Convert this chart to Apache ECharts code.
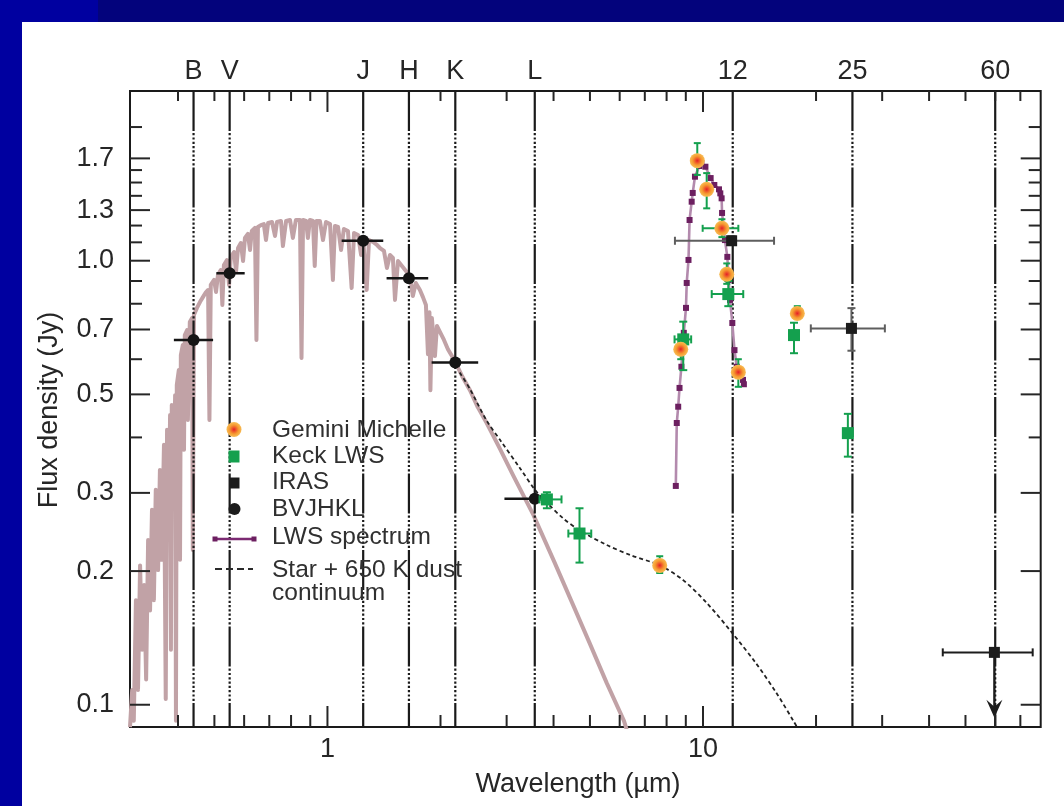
<!DOCTYPE html>
<html>
<head>
<meta charset="utf-8">
<title>Spectral energy distribution</title>
<script src="https://cdn.jsdelivr.net/npm/echarts@6/dist/echarts.min.js"></script>
<style>
  html, body { margin: 0; padding: 0; background: #ffffff; }
  #chart { width: 1064px; height: 806px; }
</style>
</head>
<body>
<div id="chart"></div>
<script>
// ---- Axis extents (log-log) ----
const X_RANGE = [0.298, 79.3];   // wavelength, µm
const Y_RANGE = [0.0891, 2.411]; // flux density, Jy

// ---- Photometric band wavelengths, labelled along the top ----
const bandNames = ['B', 'V', 'J', 'H', 'K', 'L', '12', '25', '60'];
const bandWavelengths = [0.44, 0.549, 1.245, 1.648, 2.19, 3.565, 12, 25, 60];

// ---- Tick positions and labels ----
const xMinorTicks = [0.4, 0.5, 0.6, 0.7, 0.8, 0.9, 2, 3, 4, 5, 6, 7, 8, 9, 20, 30, 40, 50, 60, 70];
const xMajorTicks = [1, 10];
const xTickLabels = ['1', '10'];
const yMajorTicks = [0.1, 0.2, 0.3, 0.5, 0.7, 1.0, 1.3, 1.7];
const yTickLabels = ['0.1', '0.2', '0.3', '0.5', '0.7', '1.0', '1.3', '1.7'];
const yMinorTicks = [0.4, 0.6, 0.8, 0.9, 1.1, 1.2, 1.4, 1.5, 1.6, 2.0];

// ---- Photometry: [wavelength, flux, xLow, xHigh, yLow, yHigh] ----
const bvjhklPoints = [
  [0.440, 0.663, 0.390, 0.496, 0.663, 0.663],
  [0.549, 0.937, 0.506, 0.602, 0.937, 0.937],
  [1.245, 1.109, 1.091, 1.408, 1.109, 1.109],
  [1.648, 0.913, 1.437, 1.855, 0.913, 0.913],
  [2.190, 0.590, 1.894, 2.520, 0.590, 0.590],
  [3.565, 0.291, 2.960, 3.900, 0.291, 0.291]
];
const keckPoints = [
  [3.84, 0.290, 3.67, 4.20, 0.277, 0.301],
  [4.69, 0.243, 4.38, 5.04, 0.209, 0.277],
  [8.86, 0.665, 8.40, 9.30, 0.567, 0.729],
  [11.68, 0.841, 10.55, 12.80, 0.790, 0.900],
  [17.47, 0.680, 17.47, 17.47, 0.619, 0.725],
  [24.31, 0.409, 24.31, 24.31, 0.362, 0.452]
];
const geminiPoints = [
  [7.67, 0.206, 7.67, 7.67, 0.198, 0.216],
  [8.725, 0.632, 8.725, 8.725, 0.600, 0.665],
  [9.656, 1.680, 9.656, 9.656, 1.560, 1.840],
  [10.23, 1.448, 10.23, 10.23, 1.312, 1.575],
  [11.23, 1.183, 9.98, 12.42, 1.130, 1.240],
  [11.57, 0.932, 11.57, 11.57, 0.887, 0.986],
  [12.42, 0.561, 12.42, 12.42, 0.520, 0.600],
  [17.83, 0.761, 17.83, 17.83, 0.740, 0.790]
];
const irasPoints = [
  [11.92, 1.109, 8.42, 15.46, 1.085, 1.135],
  [24.85, 0.704, 19.37, 30.5, 0.627, 0.782]
];
// [wavelength, flux, xLow, xHigh, arrowTip]
const irasUpperLimits = [
  [59.7, 0.1312, 43.5, 75.5, 0.0935]
];

// ---- LWS spectrum [wavelength, flux] ----
const lwsSpectrum = [
  [8.465, 0.311], [8.515, 0.431], [8.59, 0.469], [8.66, 0.517], [8.76, 0.577],
  [8.89, 0.688], [9.01, 0.783], [9.05, 0.891], [9.15, 1.004], [9.21, 1.235],
  [9.33, 1.358], [9.39, 1.421], [9.52, 1.546], [9.78, 1.634], [9.90, 1.660],
  [10.15, 1.628], [10.48, 1.535], [10.72, 1.481], [11.03, 1.448], [11.12, 1.418],
  [11.21, 1.382], [11.24, 1.281], [11.44, 1.113], [11.61, 1.020], [11.70, 0.905],
  [11.80, 0.816], [11.97, 0.724], [12.13, 0.629], [12.30, 0.577], [12.55, 0.556],
  [12.78, 0.539], [12.85, 0.527]
];

// ---- Stellar photosphere model [wavelength, flux] ----
const stellarModel = [
  [0.298, 0.089], [0.302, 0.108], [0.305, 0.092], [0.309, 0.172], [0.313, 0.108],
  [0.317, 0.206], [0.321, 0.133], [0.325, 0.186], [0.329, 0.114], [0.333, 0.235],
  [0.337, 0.163], [0.341, 0.275], [0.345, 0.172], [0.349, 0.305], [0.354, 0.201],
  [0.358, 0.338], [0.362, 0.212], [0.367, 0.385], [0.371, 0.103], [0.374, 0.416],
  [0.378, 0.261], [0.381, 0.449], [0.383, 0.133], [0.385, 0.473], [0.390, 0.338],
  [0.393, 0.498], [0.395, 0.092], [0.397, 0.525], [0.402, 0.567], [0.405, 0.212],
  [0.407, 0.613], [0.412, 0.646], [0.415, 0.375], [0.417, 0.680], [0.423, 0.698],
  [0.425, 0.438], [0.430, 0.728], [0.436, 0.743], [0.438, 0.223], [0.441, 0.755],
  [0.449, 0.782], [0.458, 0.808], [0.466, 0.828], [0.475, 0.850], [0.481, 0.859],
  [0.485, 0.438], [0.489, 0.882], [0.499, 0.905], [0.505, 0.850], [0.511, 0.929],
  [0.520, 0.953], [0.525, 0.795], [0.530, 0.978], [0.540, 1.003], [0.547, 0.882],
  [0.553, 1.020], [0.564, 1.046], [0.571, 0.944], [0.578, 1.068], [0.588, 1.096],
  [0.596, 0.998], [0.603, 1.125], [0.614, 1.149], [0.622, 1.057], [0.629, 1.167],
  [0.641, 1.185], [0.647, 0.663], [0.653, 1.191], [0.665, 1.203], [0.677, 1.209],
  [0.686, 1.113], [0.695, 1.216], [0.712, 1.222], [0.725, 1.137], [0.734, 1.222],
  [0.752, 1.229], [0.761, 1.079], [0.776, 1.229], [0.795, 1.235], [0.809, 1.125],
  [0.824, 1.235], [0.845, 1.235], [0.853, 0.604], [0.861, 1.235], [0.877, 1.229],
  [0.887, 1.125], [0.898, 1.235], [0.915, 1.229], [0.925, 0.973], [0.935, 1.229],
  [0.955, 1.229], [0.973, 1.113], [0.991, 1.222], [1.016, 1.209], [1.034, 0.905],
  [1.047, 1.197], [1.067, 1.191], [1.087, 1.057], [1.106, 1.179], [1.134, 1.167],
  [1.160, 0.868], [1.177, 1.155], [1.206, 1.143], [1.229, 1.030], [1.244, 1.131],
  [1.272, 0.859], [1.290, 1.113], [1.322, 1.102], [1.355, 1.085], [1.380, 1.068],
  [1.414, 1.052], [1.440, 0.963], [1.467, 1.030], [1.494, 1.014], [1.513, 0.816],
  [1.541, 0.998], [1.579, 0.973], [1.618, 0.948], [1.658, 0.924], [1.688, 0.833],
  [1.719, 0.891], [1.763, 0.859], [1.796, 0.828], [1.829, 0.795], [1.852, 0.616],
  [1.869, 0.765], [1.880, 0.511], [1.897, 0.743], [1.933, 0.610], [1.957, 0.713],
  [1.993, 0.691], [2.043, 0.663], [2.093, 0.632], [2.145, 0.610], [2.190, 0.592],
  [2.282, 0.550], [2.396, 0.511], [2.513, 0.468], [2.655, 0.431], [2.880, 0.377],
  [3.125, 0.328], [3.532, 0.268], [4.027, 0.209], [4.478, 0.170], [4.984, 0.138],
  [5.540, 0.112], [6.160, 0.092], [6.313, 0.086]
];

// ---- Star + 650 K dust continuum [wavelength, flux] ----
const dustContinuum = [
  [2.25, 0.560], [2.396, 0.514], [2.655, 0.436], [2.880, 0.395], [3.256, 0.341],
  [3.569, 0.305], [3.843, 0.285], [4.240, 0.263], [4.694, 0.247], [5.540, 0.229],
  [6.432, 0.217], [7.674, 0.206], [8.846, 0.191], [10.27, 0.169], [11.97, 0.145],
  [13.84, 0.124], [15.72, 0.106], [17.47, 0.0915], [17.80, 0.089]
];

// ---- Styling ----
const FONT = "'Liberation Sans', Arial, Helvetica, sans-serif";
const INK = '#262626';
const GREEN = '#14a04e';
const STAR_COLOR = '#c1a2a6';

// Long dash followed by a run of fine dots, repeated down each band line.
function bandLineDash() {
  const dash = [40];
  for (let i = 0; i < 8; i++) dash.push(2.1, 2.2);
  dash.push(2.1);
  return dash;
}

// Axis frame decorations: inward ticks on all four sides, tick labels, band labels.
function renderFrame(params, api) {
  const kids = [];
  const bl = api.coord([X_RANGE[0], Y_RANGE[0]]);
  const tr = api.coord([X_RANGE[1], Y_RANGE[1]]);
  const left = bl[0], bottom = bl[1], right = tr[0], top = tr[1];
  const stroke = { stroke: INK, lineWidth: 2 };
  const seg = (x1, y1, x2, y2) => kids.push({ type: 'line', shape: { x1, y1, x2, y2 }, style: stroke });
  const label = (text, x, y, align, size) => kids.push({
    type: 'text', x, y,
    style: { text, fill: INK, fontSize: size, fontFamily: FONT, align, verticalAlign: 'middle' }
  });

  xMinorTicks.forEach(v => {
    const px = api.coord([v, Y_RANGE[0]])[0];
    seg(px, bottom, px, bottom - 12);
    seg(px, top, px, top + 10);
  });
  xMajorTicks.forEach((v, i) => {
    const px = api.coord([v, Y_RANGE[0]])[0];
    seg(px, bottom, px, bottom - 21);
    seg(px, top, px, top + 21);
    label(xTickLabels[i], px, bottom + 23, 'center', 27);
  });
  yMinorTicks.forEach(v => {
    const py = api.coord([X_RANGE[0], v])[1];
    seg(left, py, left + 12, py);
    seg(right, py, right - 12, py);
  });
  yMajorTicks.forEach((v, i) => {
    const py = api.coord([X_RANGE[0], v])[1];
    seg(left, py, left + 20, py);
    seg(right, py, right - 20, py);
    label(yTickLabels[i], left - 16, py, 'right', 27);
  });
  bandWavelengths.forEach((w, i) => {
    const px = api.coord([w, Y_RANGE[1]])[0];
    label(bandNames[i], px, top - 19, 'center', 27);
  });
  return { type: 'group', children: kids };
}

// Error bars (with optional caps) plus a marker drawn on top.
function makeErrorBarRenderer(opts) {
  return function (params, api) {
    const x = api.value(0), y = api.value(1);
    const xl = api.value(2), xh = api.value(3), yl = api.value(4), yh = api.value(5);
    const c = api.coord([x, y]);
    const kids = [];
    const st = { stroke: opts.color, lineWidth: opts.width };
    const h = (opts.cap || 0) / 2;
    if (xl < x || xh > x) {
      const a = api.coord([xl, y])[0], b = api.coord([xh, y])[0];
      kids.push({ type: 'line', shape: { x1: a, y1: c[1], x2: b, y2: c[1] }, style: st });
      if (h) {
        kids.push({ type: 'line', shape: { x1: a, y1: c[1] - h, x2: a, y2: c[1] + h }, style: st });
        kids.push({ type: 'line', shape: { x1: b, y1: c[1] - h, x2: b, y2: c[1] + h }, style: st });
      }
    }
    if (yl < y || yh > y) {
      const a = api.coord([x, yl])[1], b = api.coord([x, yh])[1];
      kids.push({ type: 'line', shape: { x1: c[0], y1: a, x2: c[0], y2: b }, style: st });
      if (h) {
        kids.push({ type: 'line', shape: { x1: c[0] - h, y1: a, x2: c[0] + h, y2: a }, style: st });
        kids.push({ type: 'line', shape: { x1: c[0] - h, y1: b, x2: c[0] + h, y2: b }, style: st });
      }
    }
    if (opts.marker) kids.push(opts.marker(c[0], c[1]));
    return { type: 'group', children: kids };
  };
}

function geminiFill() {
  return new echarts.graphic.RadialGradient(0.5, 0.5, 0.5, [
    { offset: 0, color: '#e41f28' },
    { offset: 0.28, color: '#ee5a2b' },
    { offset: 0.6, color: '#f59a30' },
    { offset: 1, color: '#f8bc55' }
  ]);
}

const squareMarker = (size, fill) => (x, y) => ({
  type: 'rect', shape: { x: x - size / 2, y: y - size / 2, width: size, height: size }, style: { fill }
});
const circleMarker = (r, fillFn) => (x, y) => ({
  type: 'circle', shape: { cx: x, cy: y, r }, style: { fill: typeof fillFn === 'function' ? fillFn() : fillFn }
});

// IRAS 60 µm upper limit: horizontal bar with caps, square, and a downward arrow.
function renderUpperLimit(params, api) {
  const x = api.value(0), y = api.value(1), xl = api.value(2), xh = api.value(3), tip = api.value(4);
  const c = api.coord([x, y]);
  const a = api.coord([xl, y])[0], b = api.coord([xh, y])[0];
  const t = api.coord([x, tip])[1];
  const st = { stroke: '#1c1c1c', lineWidth: 2 };
  return {
    type: 'group',
    children: [
      { type: 'line', shape: { x1: a, y1: c[1], x2: b, y2: c[1] }, style: st },
      { type: 'line', shape: { x1: a, y1: c[1] - 4, x2: a, y2: c[1] + 4 }, style: st },
      { type: 'line', shape: { x1: b, y1: c[1] - 4, x2: b, y2: c[1] + 4 }, style: st },
      { type: 'line', shape: { x1: c[0], y1: c[1], x2: c[0], y2: t - 8 }, style: { stroke: '#1c1c1c', lineWidth: 2.4 } },
      { type: 'polygon', shape: { points: [[c[0], t], [c[0] - 8, t - 18], [c[0], t - 11], [c[0] + 8, t - 18]] }, style: { fill: '#1c1c1c' } },
      { type: 'rect', shape: { x: c[0] - 5.5, y: c[1] - 5.5, width: 11, height: 11 }, style: { fill: '#1c1c1c' } }
    ]
  };
}

// One dashed/dotted vertical line per photometric band.
const bandLineSeries = bandWavelengths.map((w, i) => ({
  name: 'band-' + bandNames[i],
  type: 'line',
  data: [[w, Y_RANGE[1]], [w, Y_RANGE[0]]],
  symbol: 'none',
  silent: true,
  z: 3,
  lineStyle: { color: '#1a1a1a', width: 2.2, type: bandLineDash() }
}));

const series = [
  {
    name: 'Stellar model',
    type: 'line',
    data: stellarModel,
    symbol: 'none',
    silent: true,
    z: 2,
    lineStyle: { color: STAR_COLOR, width: 4, join: 'round' }
  },
  ...bandLineSeries,
  {
    name: 'Star + 650 K dust continuum',
    type: 'line',
    data: dustContinuum,
    symbol: 'none',
    smooth: 0.3,
    silent: true,
    z: 4,
    lineStyle: { color: '#222222', width: 1.8, type: [4, 3] }
  },
  {
    name: 'LWS spectrum',
    type: 'line',
    data: lwsSpectrum,
    symbol: 'rect',
    symbolSize: 6,
    showAllSymbol: true,
    silent: true,
    z: 5,
    lineStyle: { color: '#b38aad', width: 2.6 },
    itemStyle: { color: '#6c1f60' }
  },
  {
    name: 'BVJHKL',
    type: 'custom',
    data: bvjhklPoints,
    encode: { x: 0, y: 1 },
    silent: true,
    z: 6,
    renderItem: makeErrorBarRenderer({ color: '#151515', width: 2.5, cap: 0, marker: circleMarker(6, '#151515') })
  },
  {
    name: 'Keck LWS',
    type: 'custom',
    data: keckPoints,
    encode: { x: 0, y: 1 },
    silent: true,
    z: 7,
    renderItem: makeErrorBarRenderer({ color: GREEN, width: 2, cap: 8, marker: squareMarker(12, GREEN) })
  },
  {
    name: 'Gemini Michelle',
    type: 'custom',
    data: geminiPoints,
    encode: { x: 0, y: 1 },
    silent: true,
    z: 8,
    renderItem: makeErrorBarRenderer({ color: GREEN, width: 2, cap: 7, marker: circleMarker(7.5, geminiFill) })
  },
  {
    name: 'IRAS',
    type: 'custom',
    data: irasPoints,
    encode: { x: 0, y: 1 },
    silent: true,
    z: 9,
    renderItem: makeErrorBarRenderer({ color: '#5e5e5e', width: 2, cap: 8, marker: squareMarker(11, '#1c1c1c') })
  },
  {
    name: 'IRAS upper limit',
    type: 'custom',
    data: irasUpperLimits,
    encode: { x: 0, y: 1 },
    silent: true,
    z: 9,
    renderItem: renderUpperLimit
  },
  {
    name: 'frame',
    type: 'custom',
    data: [[X_RANGE[0], Y_RANGE[0]]],
    encode: { x: 0, y: 1 },
    silent: true,
    clip: false,
    z: 10,
    renderItem: renderFrame
  }
];

// Legend block, slide background bands and axis titles.
const legendText = (text, x, y) => ({
  type: 'text', x, y, z: 20,
  style: { text, fill: '#303030', fontSize: 24.5, fontFamily: FONT, align: 'left', verticalAlign: 'middle' }
});
const graphic = [
  { type: 'rect', z: -10, shape: { x: 0, y: 0, width: 1064, height: 22 }, style: { fill: '#03037c' } },
  { type: 'rect', z: -9, shape: { x: 0, y: 0, width: 98, height: 22 }, style: { fill: '#0000a0' } },
  { type: 'rect', z: -9, shape: { x: 0, y: 0, width: 22, height: 806 }, style: { fill: '#0000a0' } },

  { type: 'text', x: 578, y: 785, z: 20,
    style: { text: 'Wavelength (µm)', fill: INK, fontSize: 27, fontFamily: FONT, align: 'center', verticalAlign: 'middle' } },
  { type: 'text', x: 50, y: 410, rotation: Math.PI / 2, z: 20,
    style: { text: 'Flux density (Jy)', fill: INK, fontSize: 27, fontFamily: FONT, align: 'center', verticalAlign: 'middle' } },

  { type: 'circle', z: 20, shape: { cx: 234, cy: 429.5, r: 7.5 }, style: { fill: geminiFill() } },
  legendText('Gemini Michelle', 272, 430),
  { type: 'rect', z: 20, shape: { x: 228.5, y: 450.5, width: 11, height: 12 }, style: { fill: GREEN } },
  legendText('Keck LWS', 272, 456.5),
  { type: 'rect', z: 20, shape: { x: 229, y: 477.5, width: 10.5, height: 11 }, style: { fill: '#1c1c1c' } },
  legendText('IRAS', 272, 482.5),
  { type: 'circle', z: 20, shape: { cx: 234.5, cy: 509, r: 6 }, style: { fill: '#1c1c1c' } },
  legendText('BVJHKL', 272, 509),
  { type: 'line', z: 20, shape: { x1: 214, y1: 539, x2: 255, y2: 539 }, style: { stroke: '#7b2a72', lineWidth: 2.5 } },
  { type: 'rect', z: 20, shape: { x: 212.5, y: 536.5, width: 5, height: 5 }, style: { fill: '#6c1f60' } },
  { type: 'rect', z: 20, shape: { x: 251.5, y: 536.5, width: 5, height: 5 }, style: { fill: '#6c1f60' } },
  legendText('LWS spectrum', 272, 537),
  { type: 'line', z: 20, shape: { x1: 215, y1: 569, x2: 253, y2: 569 }, style: { stroke: '#2a2a2a', lineWidth: 1.8, lineDash: [7, 4] } },
  legendText('Star + 650 K dust', 272, 570),
  legendText('continuum', 272, 593)
];

const chart = echarts.init(document.getElementById('chart'), null, { renderer: 'canvas', width: 1064, height: 806 });
chart.setOption({
  animation: false,
  backgroundColor: '#ffffff',
  grid: {
    left: 130, top: 91, right: 23.3, bottom: 79,
    show: true, borderColor: '#1a1a1a', borderWidth: 2, backgroundColor: 'transparent'
  },
  xAxis: {
    type: 'log', logBase: 10, min: X_RANGE[0], max: X_RANGE[1], show: false,
    splitLine: { show: false }
  },
  yAxis: {
    type: 'log', logBase: 10, min: Y_RANGE[0], max: Y_RANGE[1], show: false,
    splitLine: { show: false }
  },
  graphic,
  series
});
</script>
</body>
</html>
